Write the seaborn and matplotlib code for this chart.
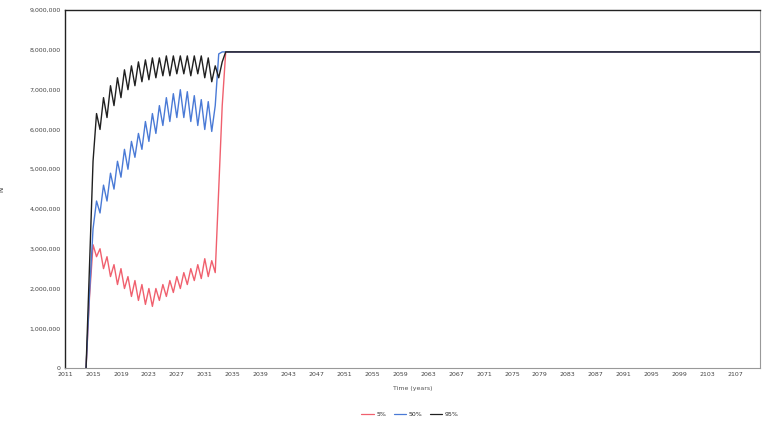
import pandas as pd
import matplotlib
matplotlib.use("Agg")
import matplotlib.pyplot as plt
import seaborn as sns

# ── Data (population, millions) ───────────────────────────────
YEARS = [2014.0, 2014.5, 2015.0, 2015.5, 2016.0, 2016.5, 2017.0, 2017.5,
         2018.0, 2018.5, 2019.0, 2019.5, 2020.0, 2020.5, 2021.0, 2021.5,
         2022.0, 2022.5, 2023.0, 2023.5, 2024.0, 2024.5, 2025.0, 2025.5,
         2026.0, 2026.5, 2027.0, 2027.5, 2028.0, 2028.5, 2029.0, 2029.5,
         2030.0, 2030.5, 2031.0, 2031.5, 2032.0, 2032.5, 2033.0, 2033.5,
         2034.0, 2034.5, 2111.0]

P05 = [0, 1.8, 3.1, 2.8, 3.0, 2.5, 2.8, 2.3, 2.6, 2.1, 2.5, 2.0, 2.3, 1.8,
       2.2, 1.7, 2.1, 1.6, 2.0, 1.55, 2.0, 1.7, 2.1, 1.8, 2.2, 1.9, 2.3, 2.0,
       2.4, 2.1, 2.5, 2.2, 2.6, 2.25, 2.75, 2.3, 2.7, 2.4, 4.5, 6.6, 7.95,
       7.95, 7.95]

P50 = [0, 1.9, 3.5, 4.2, 3.9, 4.6, 4.2, 4.9, 4.5, 5.2, 4.8, 5.5, 5.0, 5.7,
       5.3, 5.9, 5.5, 6.2, 5.7, 6.4, 5.9, 6.6, 6.1, 6.8, 6.2, 6.9, 6.3, 7.0,
       6.3, 6.95, 6.2, 6.85, 6.1, 6.75, 6.0, 6.7, 5.95, 6.6, 7.9, 7.95, 7.95,
       7.95, 7.95]

P95 = [0, 2.6, 5.2, 6.4, 6.0, 6.8, 6.3, 7.1, 6.6, 7.3, 6.8, 7.5, 7.0, 7.6,
       7.1, 7.7, 7.2, 7.75, 7.25, 7.8, 7.3, 7.8, 7.35, 7.85, 7.35, 7.85, 7.4,
       7.85, 7.4, 7.85, 7.35, 7.85, 7.4, 7.85, 7.3, 7.8, 7.2, 7.6, 7.3, 7.7,
       7.95, 7.95, 7.95]

LABELS = ["5%", "50%", "95%"]
COLORS = ["#f0606e", "#4a7ad6", "#202020"]
Y_TICKS = [0, 1, 2, 3, 4, 5, 6, 7, 8, 9]
X_TICKS = list(range(2011, 2108, 4))

df = pd.concat([
    pd.DataFrame({"year": YEARS, "N": [v * 1e6 for v in vals], "pct": lab})
    for vals, lab in zip([P05, P50, P95], LABELS)
])

# ── Plot ──────────────────────────────────────────────────────
sns.set_style("white")
plt.rcParams["font.family"] = ["DejaVu Sans"]

fig = plt.figure(figsize=(7.66, 4.24), dpi=100)
ax = fig.add_axes([0.085, 0.132, 0.907, 0.844])

sns.lineplot(data=df, x="year", y="N", hue="pct", palette=COLORS,
             hue_order=LABELS, linewidth=1.0, ax=ax, legend=False)

ax.set_xlim(2011, 2110.5)
ax.set_ylim(0, 9e6)
ax.set_xticks(X_TICKS)
ax.set_xticklabels([str(x) for x in X_TICKS], fontsize=4.5, color="#555555")
ax.set_yticks([v * 1e6 for v in Y_TICKS])
ax.set_yticklabels([f"{v * 1000000:,}" for v in Y_TICKS], fontsize=4.5,
                   color="#555555")
ax.tick_params(axis="both", direction="in", length=2, width=0.6,
               colors="#444444", pad=3)
ax.set_xlabel("Time (years)", fontsize=4.5, color="#555555", labelpad=6)
ax.set_ylabel("N", fontsize=5, color="#333333", labelpad=18)

for side in ["left", "top"]:
    ax.spines[side].set_color("#222222")
    ax.spines[side].set_linewidth(1.0)
for side in ["right", "bottom"]:
    ax.spines[side].set_color("#999999")
    ax.spines[side].set_linewidth(0.8)

handles = [plt.Line2D([], [], color=c, lw=0.9) for c in COLORS]
fig.legend(handles, LABELS, loc="center", bbox_to_anchor=(410 / 766, 1 - 414 / 424),
           ncol=3, frameon=False, fontsize=4.5, handlelength=2.0,
           columnspacing=1.2, handletextpad=0.4)

plt.savefig("out.png", dpi=100)
plt.close()
